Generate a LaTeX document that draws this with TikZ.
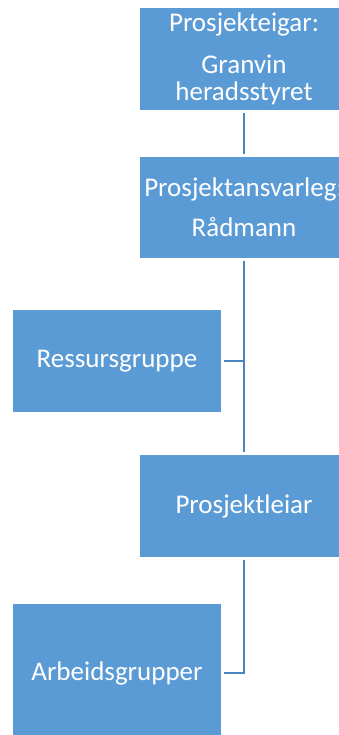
\documentclass[tikz,border=0pt]{standalone}
\usepackage{fontspec}
\setmainfont{Carlito}
\definecolor{boxblue}{HTML}{5B9BD5}
\definecolor{lineblue}{HTML}{4A84C0}
\begin{document}
\begin{tikzpicture}[x=1pt,y=-1pt,
  orgbox/.style={fill=boxblue, draw=none, minimum width=208pt, inner sep=0pt,
    text=white, align=center, font=\fontsize{27}{27}\selectfont},
  conn/.style={draw=lineblue, line width=2.8pt, shorten <=3pt, shorten >=3pt}]
\useasboundingbox (0,0) rectangle (339,735);
\clip (0,0) rectangle (339,735);
\node[orgbox, minimum height=102pt] (eigar) at (244,59) {Prosjekteigar:\\[15pt]Granvin\\heradsstyret};
\node[orgbox, minimum height=101pt] (ansvar) at (244,207.5) {Prosjektansvarleg:\\[13pt]Rådmann};
\node[orgbox, minimum height=102pt] (ressurs) at (117,361) {Ressursgruppe};
\node[orgbox, minimum height=102pt] (leiar) at (244,506) {Prosjektleiar};
\node[orgbox, minimum height=138pt] (arbeid) at (117,673) {Arbeidsgrupper};
\draw[conn] (eigar.south) -- (ansvar.north);
\draw[conn] (ansvar.south) -- (leiar.north);
\draw[conn, shorten >=0pt] (ressurs.east) -- (ressurs.east -| leiar.north);
\draw[conn] (leiar.south) |- (arbeid.east);
\end{tikzpicture}
\end{document}
